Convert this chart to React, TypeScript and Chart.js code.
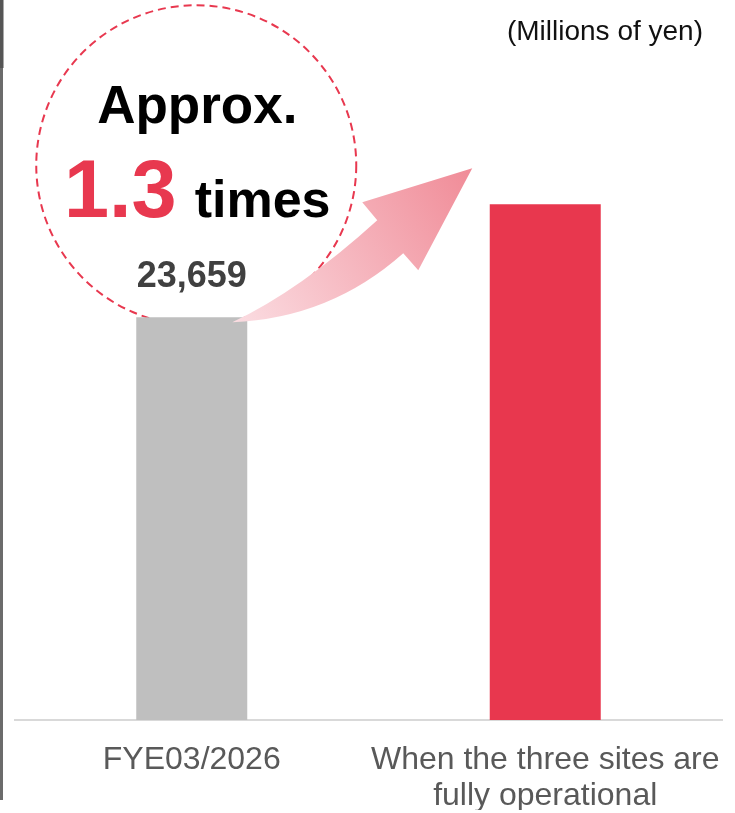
import React, { useEffect, useRef } from "react";
import { Chart, registerables } from "chart.js";

Chart.register(...registerables);

const categories: (string | string[])[] = ["FYE03/2026", ["When the three sites are", "fully operational"]];
const values: number[] = [23659, 30300];
const barColors: string[] = ["#bfbfbf", "#e8374e"];
const valueLabels: string[] = ["23,659", ""];
const unitNote = "(Millions of yen)";
const calloutTop = "Approx.";
const calloutMultiple = "1.3";
const calloutUnit = "times";

const FONT = "'Liberation Sans', Arial, sans-serif";

const decorPlugin = {
  id: "decor",
  beforeDraw(chart: any) {
    const ctx = chart.ctx;
    ctx.save();
    ctx.fillStyle = "#ffffff";
    ctx.fillRect(0, 0, chart.width, chart.height);
    ctx.fillStyle = "#6b6b6b";
    ctx.fillRect(0, 0, 3, 800);
    ctx.fillStyle = "#555555";
    ctx.fillRect(0, 0, 3.5, 68);
    ctx.fillStyle = "#111111";
    ctx.font = `28px ${FONT}`;
    ctx.textAlign = "right";
    ctx.textBaseline = "alphabetic";
    ctx.fillText(unitNote, 703, 40);
    ctx.restore();
  },
  beforeDatasetsDraw(chart: any) {
    const ctx = chart.ctx;
    const bar = chart.getDatasetMeta(0).data[0];
    const bx = bar.x;
    const by = bar.y;
    ctx.save();
    ctx.strokeStyle = "#e8384f";
    ctx.lineWidth = 2;
    ctx.setLineDash([8, 5]);
    ctx.beginPath();
    ctx.arc(bx + 4.5, by - 152, 160, 0, Math.PI * 2);
    ctx.stroke();
    ctx.restore();
  },
  afterDatasetsDraw(chart: any) {
    const ctx = chart.ctx;
    const meta = chart.getDatasetMeta(0);
    const bar = meta.data[0];
    const bx = bar.x;
    const by = bar.y;
    ctx.save();
    meta.data.forEach((el: any, i: number) => {
      if (!valueLabels[i]) return;
      ctx.fillStyle = "#404040";
      ctx.font = `bold 36px ${FONT}`;
      ctx.textAlign = "center";
      ctx.textBaseline = "alphabetic";
      ctx.fillText(valueLabels[i], el.x, el.y - 30);
    });
    const cx = bx + 5.5;
    ctx.fillStyle = "#000000";
    ctx.font = `bold 53px ${FONT}`;
    ctx.textAlign = "center";
    ctx.fillText(calloutTop, cx, by - 194);
    ctx.font = `bold 81px ${FONT}`;
    const w1 = ctx.measureText(calloutMultiple).width;
    ctx.font = `bold 52px ${FONT}`;
    const w2 = ctx.measureText(calloutUnit).width;
    const gap = 18;
    const startX = cx - (w1 + gap + w2) / 2;
    ctx.textAlign = "left";
    ctx.fillStyle = "#e8384f";
    ctx.font = `bold 81px ${FONT}`;
    ctx.fillText(calloutMultiple, startX, by - 100);
    ctx.fillStyle = "#000000";
    ctx.font = `bold 52px ${FONT}`;
    ctx.fillText(calloutUnit, startX + w1 + gap, by - 100);
    const p = (dx: number, dy: number) => [bx + dx, by + dy];
    const tail = p(40.5, 5);
    const c1 = p(108.5, -27);
    const u1 = p(185.5, -97);
    const h1 = p(170.5, -115);
    const tip = p(280.5, -149);
    const h2 = p(226.5, -47);
    const l1 = p(211.5, -64);
    const c2 = p(138.5, 1);
    const grad = ctx.createLinearGradient(tail[0], tail[1], tip[0], tip[1]);
    grad.addColorStop(0, "#fbdde2");
    grad.addColorStop(1, "#f08b97");
    ctx.fillStyle = grad;
    ctx.beginPath();
    ctx.moveTo(tail[0], tail[1]);
    ctx.quadraticCurveTo(c1[0], c1[1], u1[0], u1[1]);
    ctx.lineTo(h1[0], h1[1]);
    ctx.lineTo(tip[0], tip[1]);
    ctx.lineTo(h2[0], h2[1]);
    ctx.lineTo(l1[0], l1[1]);
    ctx.quadraticCurveTo(c2[0], c2[1], tail[0], tail[1]);
    ctx.closePath();
    ctx.fill();
    ctx.restore();
  },
};

export default function App() {
  const ref = useRef<HTMLCanvasElement | null>(null);
  useEffect(() => {
    document.body.style.margin = "0";
    if (!ref.current) return;
    const chart = new Chart(ref.current, {
      type: "bar",
      data: {
        labels: categories as any,
        datasets: [
          {
            data: values,
            backgroundColor: barColors,
            borderWidth: 0,
            barPercentage: 0.314,
            categoryPercentage: 1,
          },
        ],
      },
      options: {
        responsive: false,
        animation: false,
        devicePixelRatio: 1,
        layout: { padding: { left: 15, right: 13, top: 39, bottom: 3 } },
        plugins: { legend: { display: false }, tooltip: { enabled: false } },
        scales: {
          y: { display: false, min: 0, max: 40000 },
          x: {
            grid: { display: false, drawTicks: false },
            border: { display: true, color: "#d9d9d9", width: 2 },
            ticks: {
              color: "#595959",
              padding: 23,
              maxRotation: 0,
              autoSkip: false,
              font: { family: FONT, size: 32, lineHeight: 1.1 },
            },
            afterFit: (s: any) => {
              s.paddingLeft = 0;
              s.paddingRight = 0;
              s.height = 90;
            },
          },
        },
      },
      plugins: [decorPlugin],
    });
    return () => chart.destroy();
  }, []);
  return <canvas ref={ref} width={735} height={813} style={{ display: "block" }} />;
}
